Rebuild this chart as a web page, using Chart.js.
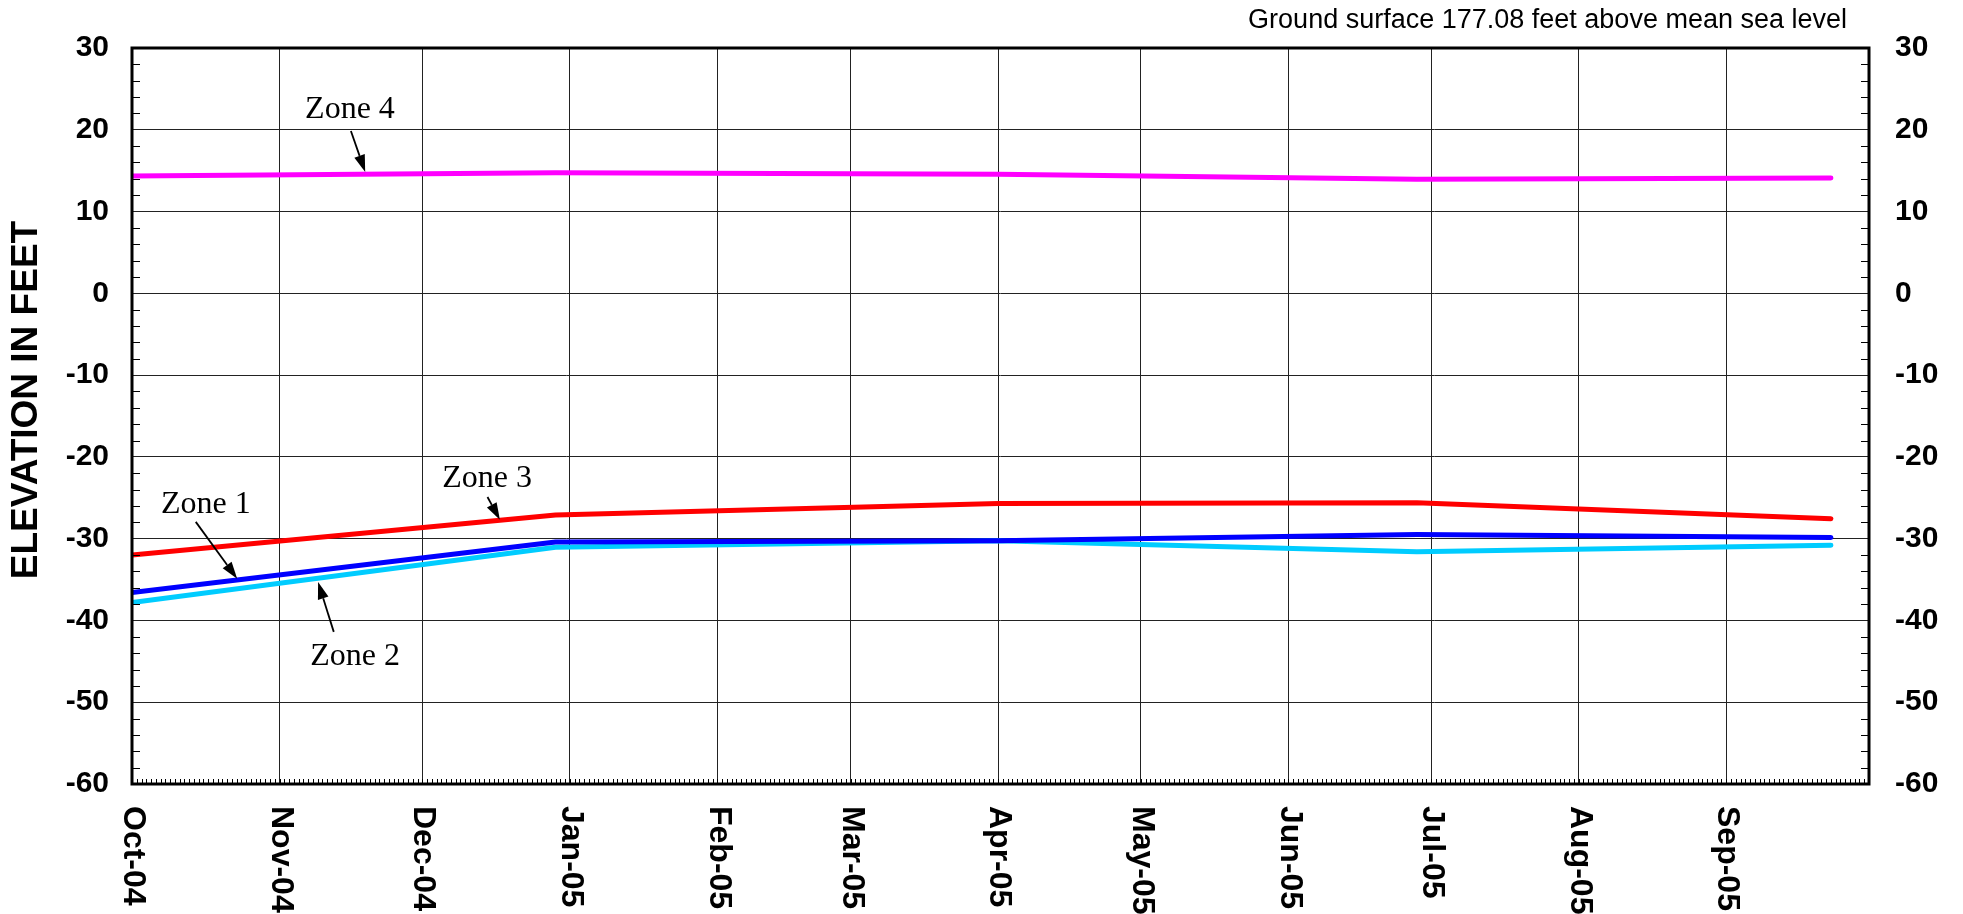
<!DOCTYPE html>
<html lang="en">
<head>
    <meta charset="UTF-8">
    <title>Groundwater Elevation - Zones 1 to 4</title>
    <script src="https://cdn.jsdelivr.net/npm/chart.js"></script>
    <style>
        body {
            margin: 0;
            padding: 0;
            background: #fff;
        }
        canvas {
            display: block;
        }
    </style>
</head>
<body>
    <canvas id="elevationChart" width="1963" height="914"></canvas>

    <script>
        // Sample dates and elevations (feet relative to mean sea level)
        const sampleDates = ['2004-10-01', '2004-12-29', '2005-04-01', '2005-06-28', '2005-09-23'];
        const zone1 = [-36.6, -30.4, -30.25, -29.5, -29.85];
        const zone2 = [-37.8, -31.05, -30.25, -31.6, -30.8];
        const zone3 = [-32.0, -27.1, -25.7, -25.6, -27.55];
        const zone4 = [14.35, 14.75, 14.55, 13.95, 14.1];

        // Axis labels
        const monthLabels = ['Oct-04', 'Nov-04', 'Dec-04', 'Jan-05', 'Feb-05', 'Mar-05',
                             'Apr-05', 'May-05', 'Jun-05', 'Jul-05', 'Aug-05', 'Sep-05'];
        const yMin = -60;
        const yMax = 30;
        const yTitle = 'ELEVATION IN FEET';
        const groundNote = 'Ground surface 177.08 feet above mean sea level';

        // Days counted from 1 Oct 2004
        const origin = Date.UTC(2004, 9, 1);
        const dayOf = ms => Math.round((ms - origin) / 86400000);
        const sampleDays = sampleDates.map(d => dayOf(Date.parse(d + 'T00:00:00Z')));
        const monthDays = [];
        for (let i = 0; i <= monthLabels.length; i++) {
            monthDays.push(dayOf(Date.UTC(2004, 9 + i, 1)));
        }
        const totalDays = monthDays[monthDays.length - 1];

        const toPoints = values => values.map((v, i) => ({ x: sampleDays[i], y: v }));

        // Callout labels with arrows (in axis units: day, feet)
        const callouts = [
            { text: 'Zone 4', at: [45.8, 21.4], from: [46.0, 19.85], to: [49.0, 14.85] },
            { text: 'Zone 1', at: [15.5, -26.9], from: [13.4, -27.95], to: [22.1, -34.9] },
            { text: 'Zone 3', at: [74.6, -23.7], from: [74.7, -24.9], to: [77.3, -27.7] },
            { text: 'Zone 2', at: [46.9, -45.45], from: [42.4, -41.4], to: [39.1, -35.3] }
        ];

        function drawArrow(ctx, x1, y1, x2, y2) {
            const ang = Math.atan2(y2 - y1, x2 - x1);
            const head = 17, half = 5.5;
            const bx = x2 - head * Math.cos(ang), by = y2 - head * Math.sin(ang);
            ctx.beginPath();
            ctx.moveTo(x1, y1);
            ctx.lineTo(bx, by);
            ctx.lineWidth = 1.8;
            ctx.stroke();
            ctx.beginPath();
            ctx.moveTo(x2, y2);
            ctx.lineTo(bx + half * Math.sin(ang), by - half * Math.cos(ang));
            ctx.lineTo(bx - half * Math.sin(ang), by + half * Math.cos(ang));
            ctx.closePath();
            ctx.fill();
        }

        // Minor ticks, frame, rotated labels, callouts and ground note
        const decorations = {
            id: 'decorations',
            afterDraw(chart) {
                const { ctx, chartArea: a, scales: { x, y } } = chart;
                ctx.save();
                ctx.strokeStyle = '#000';
                ctx.fillStyle = '#000';

                // daily ticks on the bottom, 2-ft ticks on both sides
                ctx.lineWidth = 1;
                ctx.beginPath();
                for (let d = 1; d < totalDays; d++) {
                    const px = Math.round(x.getPixelForValue(d)) + 0.5;
                    ctx.moveTo(px, a.bottom);
                    ctx.lineTo(px, a.bottom - 5);
                }
                for (let v = yMin + 2; v < yMax; v += 2) {
                    if (v % 10 === 0) continue;
                    const py = Math.round(y.getPixelForValue(v)) + 0.5;
                    ctx.moveTo(a.left, py);
                    ctx.lineTo(a.left + 8, py);
                    ctx.moveTo(a.right, py);
                    ctx.lineTo(a.right - 8, py);
                }
                ctx.stroke();

                // plot frame
                ctx.lineWidth = 3;
                ctx.strokeRect(a.left, a.top, a.right - a.left, a.bottom - a.top);

                // month labels, reading top to bottom
                ctx.font = 'bold 32px "Liberation Sans", Arial, sans-serif';
                ctx.textAlign = 'left';
                ctx.textBaseline = 'middle';
                monthLabels.forEach((label, i) => {
                    const px = x.getPixelForValue(monthDays[i]);
                    ctx.save();
                    ctx.translate(px + 1, a.bottom + 22);
                    ctx.rotate(Math.PI / 2);
                    ctx.fillText(label, 0, 0);
                    ctx.restore();
                });

                // y axis title, reading bottom to top
                ctx.font = 'bold 37px "Liberation Sans", Arial, sans-serif';
                ctx.textAlign = 'center';
                ctx.save();
                ctx.translate(27, (a.top + a.bottom) / 2 - 16);
                ctx.rotate(-Math.PI / 2);
                ctx.fillText(yTitle, 0, 0);
                ctx.restore();

                // zone callouts
                ctx.font = '32px "Liberation Serif", "Times New Roman", serif';
                ctx.textAlign = 'center';
                ctx.textBaseline = 'alphabetic';
                callouts.forEach(c => {
                    ctx.fillText(c.text, x.getPixelForValue(c.at[0]), y.getPixelForValue(c.at[1]));
                    drawArrow(ctx,
                        x.getPixelForValue(c.from[0]), y.getPixelForValue(c.from[1]),
                        x.getPixelForValue(c.to[0]), y.getPixelForValue(c.to[1]));
                });

                // ground surface note
                ctx.font = '27px "Liberation Sans", Arial, sans-serif';
                ctx.textAlign = 'right';
                ctx.fillText(groundNote, a.right - 22, 28);

                ctx.restore();
            }
        };

        const lineStyle = {
            borderWidth: 5,
            pointRadius: 0,
            tension: 0,
            fill: false,
            borderCapStyle: 'round',
            borderJoinStyle: 'round'
        };

        const tickFont = { family: '"Liberation Sans", Arial, sans-serif', size: 30, weight: 'bold' };

        new Chart(document.getElementById('elevationChart').getContext('2d'), {
            type: 'line',
            data: {
                datasets: [
                    { label: 'Zone 4', data: toPoints(zone4), borderColor: '#FF00FF', ...lineStyle },
                    { label: 'Zone 3', data: toPoints(zone3), borderColor: '#FF0000', ...lineStyle },
                    { label: 'Zone 1', data: toPoints(zone1), borderColor: '#0000FF', ...lineStyle },
                    { label: 'Zone 2', data: toPoints(zone2), borderColor: '#00CCFF', ...lineStyle }
                ]
            },
            options: {
                responsive: false,
                animation: false,
                devicePixelRatio: 1,
                layout: { padding: { top: 48, left: 0, right: 0, bottom: 0 } },
                plugins: {
                    legend: { display: false },
                    tooltip: { enabled: false }
                },
                scales: {
                    x: {
                        type: 'linear',
                        min: 0,
                        max: totalDays,
                        afterBuildTicks: scale => {
                            scale.ticks = monthDays.map(v => ({ value: v }));
                        },
                        afterFit: scale => { scale.height = 130; },
                        ticks: { display: false },
                        grid: { color: '#222', lineWidth: 1, drawTicks: false },
                        border: { display: false }
                    },
                    y: {
                        position: 'left',
                        min: yMin,
                        max: yMax,
                        afterFit: scale => { scale.width = 132; },
                        ticks: { stepSize: 10, color: '#000', font: tickFont, padding: 23 },
                        grid: { color: '#222', lineWidth: 1, drawTicks: false },
                        border: { display: false }
                    },
                    y2: {
                        position: 'right',
                        min: yMin,
                        max: yMax,
                        afterFit: scale => { scale.width = 94; },
                        ticks: { stepSize: 10, color: '#000', font: tickFont, padding: 26 },
                        grid: { display: false, drawTicks: false },
                        border: { display: false }
                    }
                }
            },
            plugins: [decorations]
        });
    </script>
</body>
</html>
